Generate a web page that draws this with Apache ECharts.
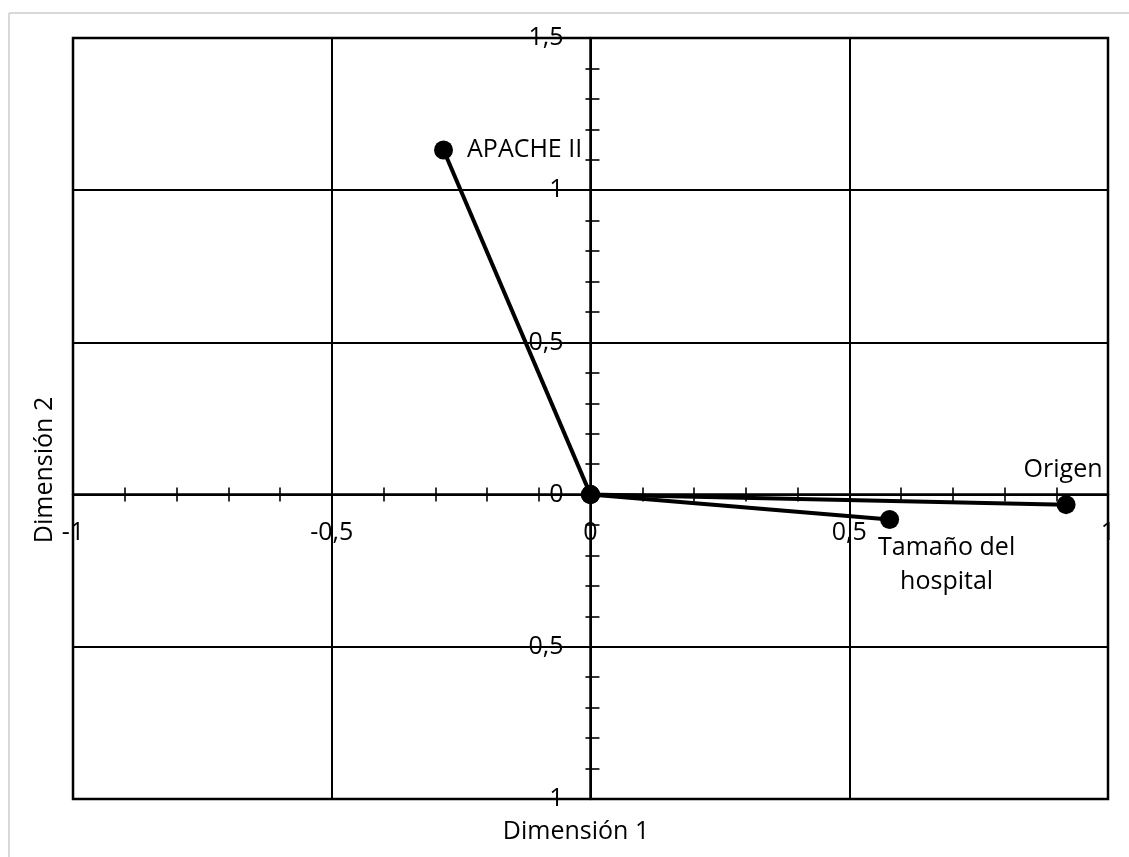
<!DOCTYPE html>
<html>
<head>
<meta charset="utf-8">
<script src="https://cdn.jsdelivr.net/npm/echarts@6/dist/echarts.min.js"></script>
<style>
  html, body { margin: 0; padding: 0; background: #fff; }
  #chart { width: 1129px; height: 857px; }
</style>
</head>
<body>
<div id="chart"></div>
<script>
// Variable loadings on the two dimensions
const variables = ['APACHE II', 'Tamaño del\nhospital', 'Origen'];
const dimension1 = [-0.284, 0.578, 0.919];
const dimension2 = [1.132, -0.082, -0.033];

// Axis ranges and tick spacing
const xRange = [-1, 1];
const yRange = [-1, 1.5];
const majorStep = 0.5;
const minorSplits = 5;

const axisTitles = ['Dimensión 1', 'Dimensión 2'];

const FONT = '"Open Sans", sans-serif';
const FS = 25;

// Label placement for each variable's end point
const labelPlacement = [
  { position: 'right', distance: 14 },
  { position: 'inside', offset: [57, 45], align: 'center', lineHeight: 34 },
  { position: 'inside', offset: [-3, -35], align: 'center' }
];

const fmt = v => String(v).replace('.', ',');

const chart = echarts.init(document.getElementById('chart'), null, { renderer: 'canvas' });

const tickStyle = { color: '#000', width: 1.6 };
const gridLine = { color: '#000', width: 2 };
const gridBox = { left: 73, right: 21, top: 38, bottom: 58 };

function buildOption(xOffset, yOffset) {
  // Second, overlaid grid carries the opposite half of each crossing tick mark
  return {
    animation: false,
    backgroundColor: '#fff',
    grid: [
      Object.assign({ show: true, borderColor: '#000', borderWidth: 2.5, backgroundColor: 'transparent' }, gridBox),
      Object.assign({ show: false }, gridBox)
    ],
    xAxis: [
      {
        gridIndex: 0, type: 'value', position: 'bottom', offset: xOffset,
        min: xRange[0], max: xRange[1], interval: majorStep,
        axisLine: { show: true, onZero: false, lineStyle: { color: '#000', width: 2.5 } },
        axisTick: { show: true, inside: true, length: 7, lineStyle: tickStyle },
        minorTick: { show: true, splitNumber: minorSplits, length: 7, lineStyle: tickStyle },
        axisLabel: { color: '#000', fontFamily: FONT, fontSize: FS, margin: 26, formatter: fmt },
        splitLine: { show: true, lineStyle: gridLine },
        minorSplitLine: { show: false }
      },
      {
        gridIndex: 1, type: 'value', position: 'bottom', offset: xOffset,
        min: xRange[0], max: xRange[1], interval: majorStep,
        axisLine: { show: false, onZero: false },
        axisTick: { show: true, inside: false, length: 7, lineStyle: tickStyle },
        minorTick: { show: true, splitNumber: minorSplits, length: 7, lineStyle: tickStyle },
        axisLabel: { show: false },
        splitLine: { show: false }
      }
    ],
    yAxis: [
      {
        gridIndex: 0, type: 'value', position: 'left', offset: yOffset,
        min: yRange[0], max: yRange[1], interval: majorStep,
        axisLine: { show: true, onZero: false, lineStyle: { color: '#000', width: 2.5 } },
        axisTick: { show: true, inside: true, length: 9, lineStyle: tickStyle },
        minorTick: { show: true, splitNumber: minorSplits, length: 9, lineStyle: tickStyle },
        axisLabel: { color: '#000', fontFamily: FONT, fontSize: FS, margin: 27, formatter: fmt },
        splitLine: { show: true, lineStyle: gridLine },
        minorSplitLine: { show: false }
      },
      {
        gridIndex: 1, type: 'value', position: 'left', offset: yOffset,
        min: yRange[0], max: yRange[1], interval: majorStep,
        axisLine: { show: false, onZero: false },
        axisTick: { show: true, inside: false, length: 5, lineStyle: tickStyle },
        minorTick: { show: true, splitNumber: minorSplits, length: 5, lineStyle: tickStyle },
        axisLabel: { show: false },
        splitLine: { show: false }
      }
    ],
    graphic: [
      { type: 'line', shape: { x1: 9, y1: 13, x2: 1129, y2: 13 }, style: { stroke: '#d9d9d9', lineWidth: 2 }, silent: true },
      { type: 'line', shape: { x1: 9, y1: 13, x2: 9, y2: 857 }, style: { stroke: '#d9d9d9', lineWidth: 2 }, silent: true },
      {
        type: 'text', silent: true, x: 576, y: 832,
        style: { text: axisTitles[0], fill: '#000', font: `${FS}px ${FONT}`, textAlign: 'center', textVerticalAlign: 'middle' }
      },
      {
        type: 'text', silent: true, x: 45, y: 470, rotation: Math.PI / 2,
        style: { text: axisTitles[1], fill: '#000', font: `${FS}px ${FONT}`, textAlign: 'center', textVerticalAlign: 'middle' }
      }
    ],
    series: variables.map((name, i) => ({
      type: 'line',
      name: name,
      xAxisIndex: 0,
      yAxisIndex: 0,
      z: 5,
      silent: true,
      symbol: 'circle',
      symbolSize: 19,
      showSymbol: true,
      clip: false,
      itemStyle: { color: '#000' },
      lineStyle: { color: '#000', width: 4 },
      data: [
        [0, 0],
        {
          value: [dimension1[i], dimension2[i]],
          label: Object.assign({
            show: true, formatter: name, color: '#000', fontFamily: FONT, fontSize: FS
          }, labelPlacement[i])
        }
      ]
    }))
  };
}

// First pass lays out the grid; then both axes are shifted onto the zero lines
chart.setOption(buildOption(0, 0));
const zero = chart.convertToPixel({ gridIndex: 0 }, [0, 0]);
const bottomPx = chart.convertToPixel({ gridIndex: 0 }, [xRange[0], yRange[0]]);
chart.setOption(buildOption(-(bottomPx[1] - zero[1]), -(zero[0] - bottomPx[0])));
</script>
</body>
</html>
